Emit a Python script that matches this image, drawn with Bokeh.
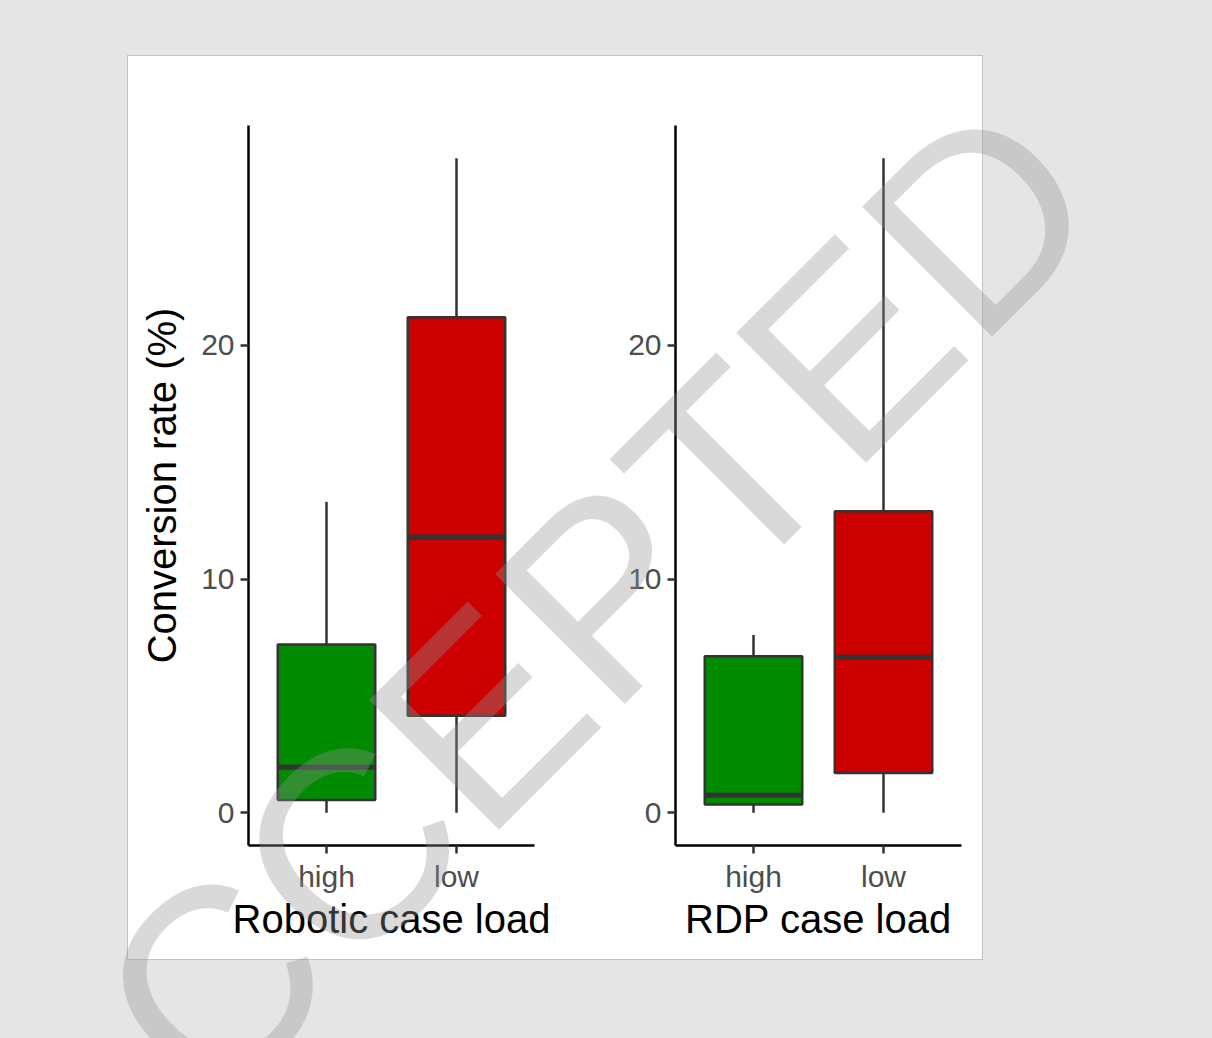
import math
from bokeh.plotting import figure
from bokeh.models import Range1d, FixedTicker, ColumnDataSource, Label
from bokeh.layouts import row, column
from bokeh.embed import file_html
from bokeh.resources import INLINE

# ---- data ----
categories = ["high", "low"]
box_colors = ["#008B00", "#CD0000"]

robotic_lower = [0.0, 0.0]
robotic_q1 = [0.55, 4.15]
robotic_median = [1.95, 11.8]
robotic_q3 = [7.2, 21.2]
robotic_upper = [13.3, 28.0]

rdp_lower = [0.0, 0.0]
rdp_q1 = [0.35, 1.7]
rdp_median = [0.75, 6.65]
rdp_q3 = [6.7, 12.9]
rdp_upper = [7.6, 28.0]

y_ticks = [0, 10, 20]
y_title = "Conversion rate (%)"
x_titles = ["Robotic case load", "RDP case load"]
watermark_text = "ACCEPTED"

FONT = "Liberation Sans"
BOX_W = 0.75


def make_panel(xtitle, lower, q1, med, q3, upper, ytitle):
    p = figure(width=427, height=903,
               x_range=Range1d(0.4, 2.6), y_range=Range1d(-1.4, 29.4),
               output_backend="svg", toolbar_location=None,
               min_border_left=120, min_border_right=21,
               min_border_top=69, min_border_bottom=114)
    xs = [i + 1 for i in range(len(categories))]
    src = ColumnDataSource(dict(
        x=xs,
        xl=[x - BOX_W / 2 for x in xs],
        xr=[x + BOX_W / 2 for x in xs],
        lower=lower, q1=q1, med=med, q3=q3, upper=upper,
        color=box_colors,
    ))
    p.segment(x0="x", y0="q3", x1="x", y1="upper", source=src,
              line_color="#333333", line_width=2.5)
    p.segment(x0="x", y0="lower", x1="x", y1="q1", source=src,
              line_color="#333333", line_width=2.5)
    p.vbar(x="x", width=BOX_W, bottom="q1", top="q3", source=src,
           fill_color="color", line_color="#333333", line_width=2.5)
    p.segment(x0="xl", y0="med", x1="xr", y1="med", source=src,
              line_color="#333333", line_width=5)

    p.xgrid.visible = False
    p.ygrid.visible = False
    p.outline_line_color = None
    p.background_fill_color = "white"
    p.border_fill_color = "white"

    p.xaxis.ticker = FixedTicker(ticks=xs)
    p.xaxis.major_label_overrides = {x: c for x, c in zip(xs, categories)}
    p.yaxis.ticker = FixedTicker(ticks=y_ticks)

    for ax in (p.xaxis[0], p.yaxis[0]):
        ax.axis_line_color = "black"
        ax.axis_line_width = 2.5
        ax.major_tick_line_color = "#333333"
        ax.major_tick_line_width = 2.5
        ax.major_tick_out = 8
        ax.major_tick_in = 0
        ax.minor_tick_line_color = None
        ax.major_label_text_font = FONT
        ax.major_label_text_font_size = "30px"
        ax.major_label_text_color = "#4d4d4d"
        ax.major_label_standoff = 6
        ax.axis_label_text_font = FONT
        ax.axis_label_text_font_size = "40px"
        ax.axis_label_text_font_style = "normal"
        ax.axis_label_text_color = "black"
    p.xaxis.axis_label_standoff = 1
    p.yaxis.axis_label_standoff = 14
    p.xaxis.axis_label = xtitle
    if ytitle:
        p.yaxis.axis_label = ytitle
    return p


left = make_panel(x_titles[0], robotic_lower, robotic_q1, robotic_median,
                  robotic_q3, robotic_upper, y_title)
right = make_panel(x_titles[1], rdp_lower, rdp_q1, rdp_median,
                   rdp_q3, rdp_upper, None)

charts = row(left, right, margin=(56, 0, 0, 128),
             styles={"outline": "1px solid #c2c2c2", "background": "white"})

# ---- semi-transparent "ACCEPTED" stamp laid over the whole page ----
wm = figure(width=1212, height=1038,
            x_range=Range1d(0, 1212), y_range=Range1d(1038, 0),
            output_backend="svg", toolbar_location=None,
            x_axis_location=None, y_axis_location=None, min_border=0)
wm.grid.visible = False
wm.outline_line_color = None
wm.background_fill_alpha = 0
wm.border_fill_alpha = 0
wm.add_layout(Label(x=533, y=664, text=watermark_text, angle=math.pi / 4,
                    text_font=FONT, text_font_size="267px",
                    text_color="#919191", text_alpha=0.35,
                    text_align="center", text_baseline="middle"))
wm.margin = (-959, 0, 0, 0)

page = column(charts, wm)

html = file_html(page, INLINE, title="Conversion rate")
html = html.replace(
    "</head>",
    "<style>html,body{background:#e5e5e5;margin:0;padding:0;overflow:hidden;}</style></head>",
    1)
open("out.html", "w").write(html)
